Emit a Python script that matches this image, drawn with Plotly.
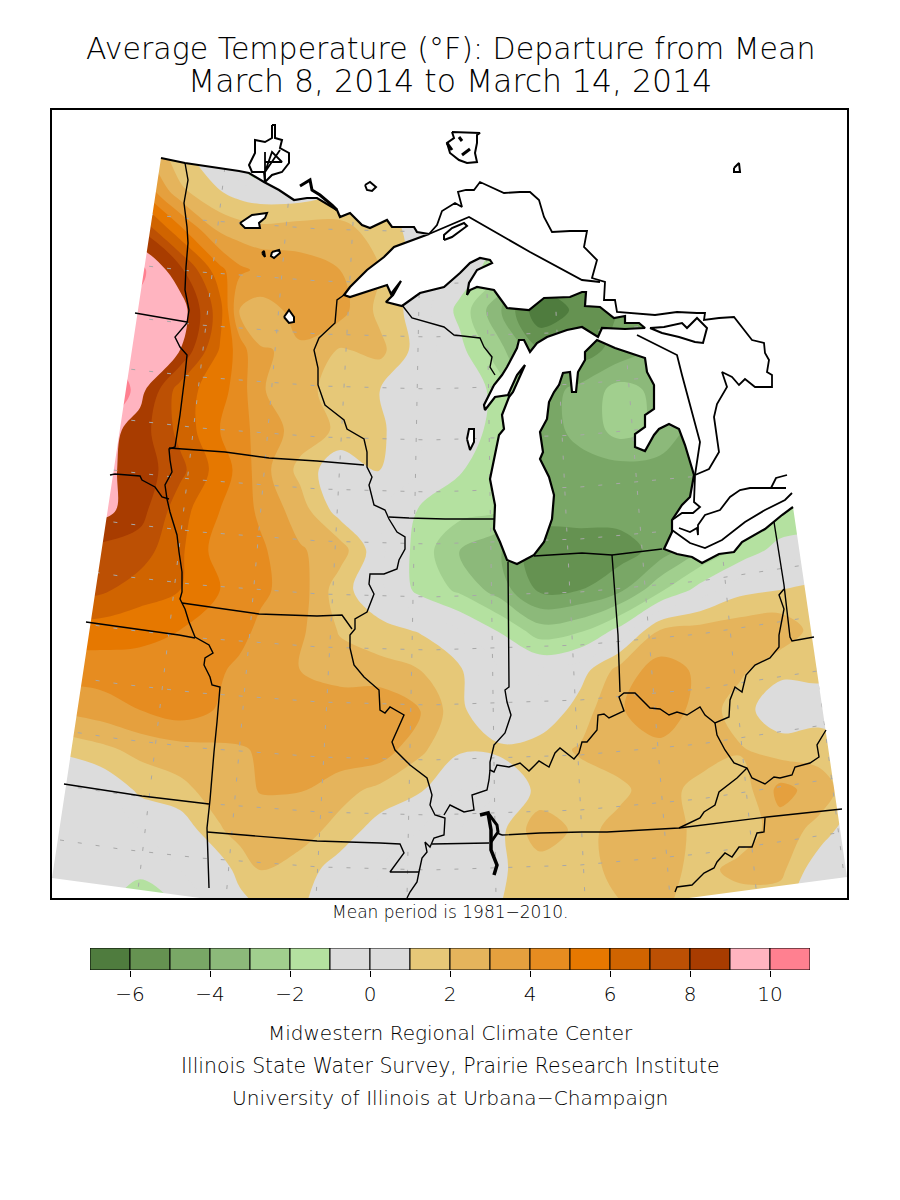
import plotly.graph_objects as go

FONT = "DejaVu Sans ExtraLight, DejaVu Sans Light, DejaVu Sans"

TITLE_LINES = ["Average Temperature (°F): Departure from Mean", "March 8, 2014 to March 14, 2014"]
NOTE = "Mean period is 1981−2010."
CREDITS = ["Midwestern Regional Climate Center",
           "Illinois State Water Survey, Prairie Research Institute",
           "University of Illinois at Urbana−Champaign"]

# colour bands, one per degree
LEVEL_EDGES = list(range(-7, 12))
LEVEL_COLORS = ["#4f7c3e", "#659251", "#79a766", "#8cb97a", "#a1cf8e", "#b4e1a0",
                "#dcdcdc", "#dcdcdc", "#e6c878", "#e5b45c", "#e5a03e", "#e68c20",
                "#e67800", "#d06400", "#bc5004", "#a83c00", "#ffb4c0", "#ff8090"]
LEVEL_TICKS = [-6, -4, -2, 0, 2, 4, 6, 8, 10]

# departure (F), on a grid in picture coordinates
GRID_X = [40, 100, 140, 180, 220, 240, 260, 300, 340, 380, 420, 460, 500, 540, 580, 620, 660, 700, 740, 780, 820, 860]
GRID_Y = [150, 190, 230, 270, 310, 350, 390, 430, 470, 510, 550, 590, 630, 670, 710, 750, 790, 830, 870, 910]
DEPARTURE = [
    [5, 5, 3.4, 1.2, 0, -2, -4.5, 0.2, 0.5, 0.5, 0.5, 0.5, 0.5, 0, 0, 0, 0, 0, 0, 0, 0, 0],
    [9, 7, 5, 2.2, 1.0, 0.5, 0.3, 0.3, 0.8, 1, 1, 1, 0, -1, -3, -3, -3, -3, -3, -3, -3, -3],
    [10, 9, 8, 5.3, 2.8, 2.5, 2.3, 2.5, 2.4, 1.5, 0.6, 0, -1, -3, -4, -4, -4, -4, -4, -4, -4, -4],
    [11, 11, 10.3, 8.3, 5.3, 4.2, 3.8, 3.4, 3.0, 2, 0.5, -0.3, -1.7, -5, -5, -5, -5, -5, -4, -4, -4, -4],
    [10, 9.5, 9.6, 9.6, 6.4, 2.9, 2.6, 3.3, 3.4, 1.7, 0.5, -1.3, -3.9, -6.8, -5.7, -5, -4.5, -4, -4, -4, -4, -4],
    [10, 9.8, 9.4, 9.0, 5.9, 4.5, 3.05, 2.9, 1.9, 2.3, 0.5, -0.7, -2.7, -5, -5.5, -4.6, -4, -4, -4, -4, -4, -4],
    [12, 12, 9.4, 6.5, 5.4, 4.5, 3.1, 2.4, 1.5, 1, 0, 0, -1.5, -4.5, -3.7, -2.6, -3.3, -3.5, -3, -3, -3, -3],
    [9.6, 9.6, 8.5, 6.7, 5, 4.4, 3.6, 2.6, 1.8, 1.2, 0, 0, -1.7, -4.5, -3.7, -2.6, -3.3, -4.5, -3, -3, -3, -3],
    [9.3, 9.3, 8.6, 7.3, 5.5, 4.7, 3.5, 1.7, 0.2, 1.1, 0, -0.9, -2, -4.2, -4.4, -4.4, -4.4, -4.5, -3, -3, -3, -3],
    [9.4, 9.4, 8.4, 6.4, 5, 4.5, 3.8, 2.5, 0.5, 0, -1.1, -1.6, -2, -4.3, -4.5, -4.5, -4.5, -4, -3, -2, -2, -1],
    [8, 7.7, 7.5, 6.2, 4.5, 4.5, 4.2, 3.1, 2.5, 0.2, -1.4, -3.1, -3.9, -5.8, -5.6, -5.5, -4.6, -3, -1.7, -0.6, 0, 0],
    [7.5, 7.2, 6.5, 6, 5, 4.6, 4.2, 3.5, 1.4, 0.2, -1.3, -2.2, -3.5, -5.2, -5.0, -4.2, -2.2, -0.6, 0.7, 1, 1.2, 1],
    [5.5, 5.5, 5.3, 5, 4.2, 4.3, 3.8, 3.2, 1.9, 1.3, 0.9, 0, -1.1, -2.6, -2.2, -0.7, 2, 2.4, 2.6, 2.7, 1.5, 1],
    [4.5, 4.5, 4.6, 4.4, 4.1, 3.8, 3.5, 3, 2.5, 2.4, 2, 1.1, 0, 0, 0.5, 2.4, 3.5, 2.8, 2.2, 1.3, 1.2, 1],
    [3, 3.5, 4, 4.5, 3.9, 3.7, 3.5, 3.5, 3.7, 3.8, 3.1, 1.2, 0, 0, 1.5, 2.9, 3.7, 2.6, 1.5, 0.2, 0.6, 0.5],
    [1, 1.7, 2.3, 2.6, 2.8, 2.9, 3.1, 3.4, 3.7, 3.6, 2.2, 1.1, 1.2, 1.6, 2.1, 2.5, 2.7, 2.6, 2.1, 1.6, 1.5, 1],
    [0, 0, 1.2, 1.7, 2.5, 2.7, 3.05, 3.05, 2.4, 1.7, 1.1, 0, 0, 1.3, 1.6, 1.8, 2.5, 1.6, 1.4, 3.3, 2.6, 1],
    [0, 0, 0, 0.3, 1.9, 2.4, 2.5, 2.5, 1.6, 0.5, 0, 0, 0.7, 2.7, 1.7, 2.3, 2.6, 1.7, 1.3, 2.6, 1.6, 0],
    [0, 0, -0.4, 0, 0.4, 1.4, 2.0, 1.5, 0.5, 0, 0, 0, 0.9, 1.4, 1.6, 2.3, 2.5, 1.6, 2.4, 2.3, 0.2, 0],
    [0, -0.5, -3, -1, 0.2, 0.5, 1, 1.1, 0.3, 0, 0, 0, 1, 1.2, 1.4, 1.9, 2.2, 1.4, 1.2, 1.2, 0.2, 0],
]

# graticule, dashed grey
LAT_Y = [232, 284, 337, 389, 440, 492, 544, 597, 650, 705, 760, 815, 870]
LAT_X = [60, 120, 200, 320, 430, 580, 700, 850]
LAT_BOW = [-30, -21, -12, -3, 0, -5, -16, -39]
LON_TOP = [227, 293, 357, 422, 485, 548, 610, 682, 750]
LON_BOTTOM = [137, 226, 316, 407, 496, 585, 670, 757, 847]

# coast, Canada border first, then round the lakes to the Erie shore
SHORE = [(161, 158), (185, 163), (239, 171), (249, 173), (264, 182), (279, 190), (294, 200), (307, 198),
         (317, 198), (337, 210), (340, 217), (350, 213), (362, 225), (370, 228), (387, 220), (392, 227),
         (414, 227), (417, 232), (429, 234), (394, 247), (384, 257), (367, 270), (350, 287), (344, 295),
         (350, 297), (380, 287), (387, 285), (391, 294), (399, 283), (401, 281), (393, 295), (386, 302),
         (402, 306), (420, 293), (444, 287), (460, 273), (470, 263), (480, 258), (490, 260), (492, 263),
         (477, 270), (469, 283), (467, 295), (470, 290), (477, 287), (494, 290), (507, 308), (529, 310),
         (544, 298), (570, 297), (582, 292), (586, 292), (585, 306), (600, 307), (614, 318), (625, 316),
         (625, 323), (639, 323), (645, 328), (625, 329), (602, 328), (598, 337), (582, 327), (567, 330),
         (547, 337), (537, 343), (530, 352), (524, 340), (519, 340), (517, 348), (507, 367), (502, 375),
         (494, 385), (484, 405), (485, 410), (495, 397), (508, 395), (517, 375), (525, 365), (522, 372),
         (513, 392), (509, 397), (502, 415), (504, 429), (499, 435), (490, 479), (495, 505), (494, 529),
         (500, 542), (507, 560), (517, 564), (534, 555), (544, 542), (552, 519), (554, 495), (549, 477),
         (540, 459), (543, 452), (540, 432), (547, 419), (549, 402), (554, 392), (559, 385), (563, 373),
         (570, 372), (572, 392), (576, 392), (578, 372), (585, 360), (585, 352), (597, 340), (615, 348),
         (645, 358), (647, 372), (654, 385), (654, 409), (645, 415), (645, 427), (635, 434), (635, 447),
         (645, 451), (654, 435), (659, 429), (669, 424), (679, 429), (685, 445), (694, 475), (690, 497),
         (682, 505), (672, 520), (672, 532), (664, 549), (677, 554), (692, 557), (702, 563), (719, 554),
         (734, 552), (742, 542), (765, 529), (782, 515), (793, 507)]
MASK_TAIL = [(847, 877), (689, 898), (860, 900), (860, 100), (40, 100), (40, 900), (200, 898), (52, 878)]

# Ontario shoreline and the border across the lakes
ONTARIO = [(429, 234), (437, 225), (442, 211), (455, 203), (462, 207), (458, 192), (466, 190), (474, 190),
           (480, 182), (494, 188), (504, 193), (520, 192), (530, 192), (539, 200), (544, 217), (552, 232),
           (570, 231), (587, 231), (584, 247), (597, 260), (592, 278), (605, 282), (604, 300), (615, 300),
           (617, 312), (655, 315), (677, 312), (697, 313), (705, 313), (704, 320), (719, 318), (734, 317),
           (742, 327), (752, 340), (764, 343), (765, 353), (769, 360), (767, 372), (772, 375), (772, 387),
           (755, 387), (745, 379), (739, 385), (732, 377), (722, 372), (727, 387), (717, 404), (714, 417),
           (719, 452), (709, 469), (695, 475), (694, 502), (700, 507), (693, 513), (682, 513), (672, 520)]
ERIE_NORTH = [(672, 530), (690, 543), (705, 548), (722, 540), (745, 522), (765, 510), (785, 500), (792, 493)]
ERIE_INNER = [(679, 528), (690, 532), (697, 528), (698, 535), (698, 525), (705, 515), (720, 510), (730, 497),
              (740, 490), (750, 488), (770, 488), (786, 488)]
ERIE_SPIT = [(771, 488), (776, 478), (787, 475)]
SUPERIOR_LINE = [(429, 234), (469, 217), (530, 252), (582, 280), (600, 282)]
HURON_LINE = [(637, 335), (677, 355), (682, 375), (700, 442), (695, 475)]

# inland lakes and islands, filled white
ISLE_ROYALE = [(444, 240), (452, 237), (467, 226), (464, 223), (452, 228), (444, 235)]
MANITOULIN = [(650, 328), (664, 327), (682, 323), (687, 328), (697, 318), (707, 328), (703, 343), (695, 342),
              (679, 337), (662, 333)]
RED_LAKE = [(240, 223), (252, 215), (267, 213), (265, 218), (259, 223), (260, 228), (245, 228)]
MILLE_LACS = [(284, 317), (289, 310), (294, 317), (294, 322), (289, 323)]
LEECH_LAKE = [(272, 252), (279, 250), (280, 253), (274, 258), (271, 256)]
CASS_LAKE = [(262, 253), (264, 251), (265, 257)]
WINNEBAGO = [(467, 439), (469, 429), (474, 429), (474, 442), (470, 450)]
NIPIGON = [(452, 132), (454, 138), (447, 143), (450, 153), (459, 160), (467, 163), (477, 162), (475, 153),
           (477, 143), (477, 135), (480, 133)]
NIPIGON_BITS = [[(459, 137), (462, 141)], [(447, 143), (452, 150)], [(462, 155), (470, 149)]]
WOODS = [(272, 125), (275, 125), (275, 138), (282, 140), (280, 148), (289, 153), (289, 163), (282, 172),
         (272, 175), (265, 182), (264, 172), (252, 172), (249, 165), (255, 153), (255, 140), (265, 142),
         (272, 138)]
WOODS_INNER = [(265, 152), (265, 180), (265, 162), (282, 162), (272, 152), (265, 172), (280, 150)]
SEUL = [(365, 185), (370, 182), (376, 187), (372, 191), (367, 190)]
FAR_LAKE = [(734, 168), (739, 163), (740, 172), (734, 172)]
BORDER_LAKES = [(300, 186), (310, 180), (312, 190), (320, 195), (332, 205), (337, 210)]
KY_LAKE = [(480, 815), (488, 813), (491, 830), (491, 850), (497, 865), (494, 875)]
BARKLEY = [(488, 813), (497, 825), (498, 832), (491, 842)]

# state lines
STATE_LINES = [
    [(185, 163), (188, 180), (184, 203), (187, 227), (188, 243), (186, 267), (185, 290), (189, 310), (187, 323),
     (175, 337), (180, 347), (187, 355), (185, 375), (180, 415), (175, 447), (169, 449), (170, 460), (172, 472),
     (165, 485), (167, 499), (170, 512), (177, 535), (179, 552), (182, 572), (182, 592), (180, 599), (185, 609),
     (189, 622), (195, 637), (209, 645), (213, 653), (205, 658), (204, 665), (210, 677), (212, 685), (220, 687),
     (217, 722), (214, 752), (210, 800), (207, 828), (209, 888)],
    [(135, 313), (187, 322)],
    [(110, 475), (115, 474), (140, 476), (142, 480), (155, 487), (162, 497), (169, 499)],
    [(169, 448), (225, 452), (269, 458), (317, 461), (364, 465)],
    [(182, 603), (259, 614), (317, 616), (342, 615), (352, 629)],
    [(86, 622), (179, 635), (195, 638)],
    [(64, 784), (142, 796), (209, 804)],
    [(207, 832), (317, 841), (380, 843), (400, 844), (404, 853), (390, 872), (419, 872)],
    [(344, 295), (337, 300), (335, 323), (319, 338), (314, 350), (318, 368), (318, 385), (325, 405), (330, 409),
     (344, 420), (347, 429), (364, 439), (367, 452), (367, 467), (372, 477), (369, 485), (374, 505), (385, 510),
     (389, 519), (397, 532), (405, 537), (405, 549), (399, 560), (397, 569), (384, 574), (370, 574), (369, 584),
     (374, 594), (367, 612), (355, 619), (355, 629), (350, 635), (350, 648), (354, 665), (364, 677), (379, 690),
     (380, 710), (385, 713), (390, 707), (404, 715), (392, 742), (395, 750), (410, 765), (419, 772), (427, 778),
     (432, 795), (430, 805), (435, 815), (445, 818), (444, 835), (434, 838), (430, 847), (425, 842), (427, 852),
     (422, 858), (419, 872), (417, 882), (410, 892), (407, 898)],
    [(402, 305), (412, 318), (444, 327), (454, 335), (480, 338), (484, 347), (492, 357), (490, 367), (495, 375)],
    [(508, 562), (509, 635), (509, 687), (505, 690), (507, 702), (511, 715), (505, 733), (494, 745), (490, 762),
     (490, 770), (494, 772), (497, 765), (509, 767), (520, 763), (529, 771), (539, 761), (549, 767), (555, 753),
     (560, 748), (574, 759), (579, 753), (582, 742), (587, 742), (597, 730), (598, 715), (604, 714), (609, 718),
     (624, 711), (619, 697), (624, 693), (635, 693), (650, 708), (660, 709), (669, 715), (677, 712), (687, 715),
     (700, 707), (705, 715), (715, 723), (729, 717), (730, 700), (735, 687), (742, 692), (746, 675), (755, 665),
     (770, 658), (779, 647), (779, 635), (784, 609), (779, 595), (784, 589)],
    [(389, 517), (409, 518), (445, 519), (494, 519)],
    [(534, 556), (582, 553), (612, 555), (662, 549)],
    [(612, 555), (618, 635), (620, 692)],
    [(774, 522), (784, 585), (790, 637), (792, 641), (814, 637)],
    [(715, 723), (717, 735), (725, 750), (734, 763), (747, 768), (752, 778), (765, 784), (774, 777), (780, 778),
     (792, 775), (795, 767), (810, 763), (819, 757), (817, 745), (826, 730)],
    [(747, 768), (737, 778), (719, 792), (715, 805), (704, 812), (700, 818), (679, 828)],
    [(502, 835), (540, 833), (582, 832), (607, 832), (679, 828), (767, 817), (842, 809)],
    [(432, 844), (489, 843)],
    [(765, 818), (764, 832), (757, 833), (752, 847), (739, 847), (732, 857), (725, 853), (717, 862), (714, 868),
     (704, 873), (692, 885), (677, 887), (675, 892)],
    [(490, 770), (489, 780), (487, 790), (472, 795), (474, 810), (464, 812), (450, 805), (444, 815)],
    [(497, 833), (502, 835)],
]

fig = go.Figure()

steps = len(LEVEL_COLORS)
colorscale = []
for i, c in enumerate(LEVEL_COLORS):
    colorscale.append([i / steps, c])
    colorscale.append([(i + 1) / steps, c])

fig.add_trace(go.Contour(x=GRID_X, y=GRID_Y, z=DEPARTURE, colorscale=colorscale, zmin=-7, zmax=11,
                         autocontour=False, contours=dict(start=-7, end=11, size=1, coloring="fill", showlines=False),
                         line=dict(width=0, smoothing=1), showscale=False, hoverinfo="skip"))


def add_path(pts, width=1.3, color="black", dash=None):
    fig.add_trace(go.Scatter(x=[p[0] for p in pts], y=[p[1] for p in pts], mode="lines",
                             line=dict(color=color, width=width, dash=dash), hoverinfo="skip", showlegend=False))


def add_lake(pts, width=2):
    closed = pts + pts[:1]
    fig.add_trace(go.Scatter(x=[p[0] for p in closed], y=[p[1] for p in closed], mode="lines", fill="toself",
                             fillcolor="white", line=dict(color="black", width=width), hoverinfo="skip",
                             showlegend=False))


for y0 in LAT_Y:
    add_path([(x, y0 + b) for x, b in zip(LAT_X, LAT_BOW)], 1, "#a8a8a8", "4px,14px")
for top, bottom in zip(LON_TOP, LON_BOTTOM):
    add_path([(top, 150), (bottom, 898)], 1, "#a8a8a8", "4px,14px")

mask = SHORE + MASK_TAIL + SHORE[:1]
fig.add_trace(go.Scatter(x=[p[0] for p in mask], y=[p[1] for p in mask], mode="lines", fill="toself",
                         fillcolor="white", line=dict(width=0), hoverinfo="skip", showlegend=False))

for line in STATE_LINES:
    add_path(line, 1.4)
add_path(SHORE, 2.2)
for line in [ONTARIO, ERIE_NORTH, ERIE_INNER, ERIE_SPIT, SUPERIOR_LINE, HURON_LINE]:
    add_path(line, 1.8)
for lake in [ISLE_ROYALE, MANITOULIN, RED_LAKE, MILLE_LACS, LEECH_LAKE, CASS_LAKE, WINNEBAGO, NIPIGON, WOODS,
             SEUL, FAR_LAKE]:
    add_lake(lake)
for bit in NIPIGON_BITS:
    add_path(bit, 3)
add_path(WOODS_INNER, 1.8)
add_path(BORDER_LAKES, 3)
add_path(KY_LAKE, 3.5)
add_path(BARKLEY, 3)

# colour key
mids = [(a + b) / 2 for a, b in zip(LEVEL_EDGES[:-1], LEVEL_EDGES[1:])]
fig.add_trace(go.Bar(x=mids, y=[1] * len(mids), width=1, marker=dict(color=LEVEL_COLORS, line=dict(color="black", width=1)),
                     xaxis="x2", yaxis="y2", hoverinfo="skip", showlegend=False))

notes = []
for text, y, size in [(TITLE_LINES[0], 48, 30), (TITLE_LINES[1], 81, 31.5), (NOTE, 912, 17),
                      (CREDITS[0], 1033, 20), (CREDITS[1], 1066, 20.4), (CREDITS[2], 1098, 20.2)]:
    notes.append(dict(text=text, x=0.5, y=1 - y / 1200, xref="paper", yref="paper", showarrow=False,
                      xanchor="center", yanchor="middle", font=dict(family=FONT, size=size, color="black")))

fig.update_layout(
    width=900, height=1200, margin=dict(l=0, r=0, t=0, b=0),
    paper_bgcolor="white", plot_bgcolor="white", showlegend=False, annotations=notes,
    xaxis=dict(domain=[52 / 900, 847 / 900], range=[52, 847], showgrid=False, zeroline=False, showticklabels=False,
               ticks="", showline=True, mirror=True, linecolor="black", linewidth=2),
    yaxis=dict(domain=[1 - 898 / 1200, 1 - 110 / 1200], range=[898, 110], showgrid=False, zeroline=False,
               showticklabels=False, ticks="", showline=True, mirror=True, linecolor="black", linewidth=2),
    xaxis2=dict(domain=[90 / 900, 810 / 900], range=[-7, 11], anchor="y2", tickvals=LEVEL_TICKS, ticks="outside",
                ticklen=6, tickcolor="black", showgrid=False, zeroline=False,
                tickfont=dict(family=FONT, size=20, color="black")),
    yaxis2=dict(domain=[1 - 970 / 1200, 1 - 948 / 1200], range=[0, 1], anchor="x2", showticklabels=False, ticks="",
                showgrid=False, zeroline=False),
)

fig.write_html("out.html", config={"displayModeBar": False}, post_script="document.body.style.margin='0';")
